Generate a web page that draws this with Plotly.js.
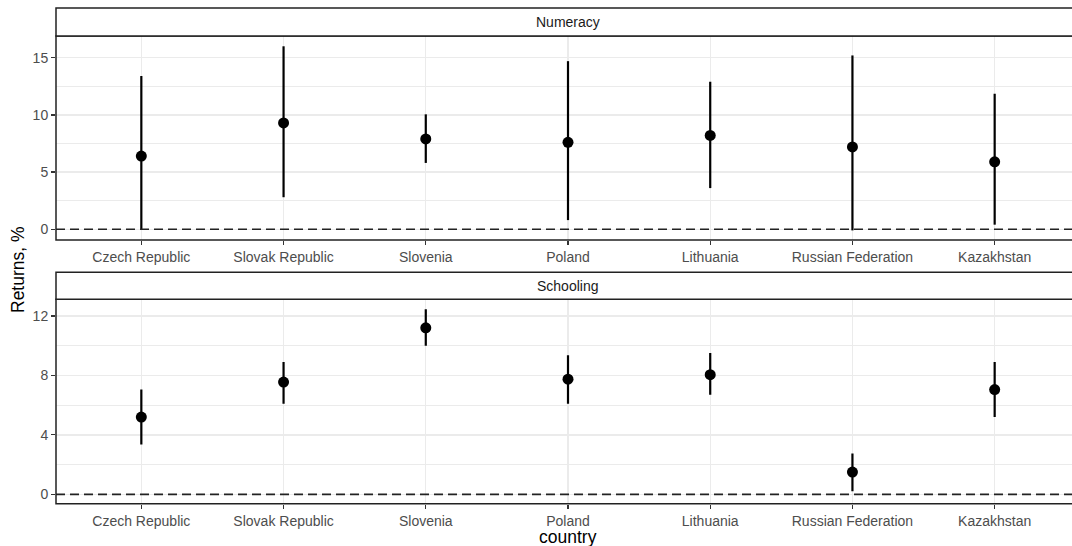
<!DOCTYPE html>
<html>
<head>
<meta charset="utf-8">
<script src="https://cdn.plot.ly/plotly-3.0.1.min.js"></script>
<style>
html, body { margin: 0; padding: 0; overflow: hidden; background: #fff; }
#chart { width: 1082px; height: 546px; }
</style>
</head>
<body>
<div id="chart"></div>
<script>
// ---- data ----
const countries = ["Czech Republic", "Slovak Republic", "Slovenia", "Poland", "Lithuania", "Russian Federation", "Kazakhstan"];

const numeracyEst  = [6.4, 9.3, 7.9, 7.6, 8.2, 7.2, 5.9];
const numeracyLow  = [-0.05, 2.8, 5.8, 0.8, 3.6, -0.1, 0.4];
const numeracyHigh = [13.4, 16.0, 10.05, 14.7, 12.9, 15.2, 11.85];

const schoolingEst  = [5.2, 7.55, 11.2, 7.75, 8.05, 1.5, 7.05];
const schoolingLow  = [3.35, 6.1, 10.0, 6.1, 6.7, 0.2, 5.2];
const schoolingHigh = [7.05, 8.9, 12.45, 9.35, 9.5, 2.75, 8.9];

const panelTitles = ["Numeracy", "Schooling"];
const yTitle = "Returns, %";
const xTitle = "country";

// ---- layout constants ----
const W = 1082, H = 546;
const FONT = "Liberation Sans, Arial, sans-serif";
const py = px => 1 - px / H;        // pixel row -> paper y

function errTrace(est, low, high, xa, ya) {
  return {
    type: "scatter", mode: "markers",
    x: countries, y: est, xaxis: xa, yaxis: ya,
    marker: { color: "#000", size: 11, symbol: "circle" },
    error_y: {
      type: "data", symmetric: false,
      array: high.map((h, i) => h - est[i]),
      arrayminus: low.map((l, i) => est[i] - l),
      color: "#000", thickness: 2.2, width: 0
    },
    hoverinfo: "x+y", showlegend: false
  };
}

const traces = [
  errTrace(numeracyEst, numeracyLow, numeracyHigh, "x", "y"),
  errTrace(schoolingEst, schoolingLow, schoolingHigh, "x2", "y2")
];

const xCommon = {
  type: "category", range: [-0.6, 6.6], categoryorder: "array", categoryarray: countries,
  showgrid: true, gridcolor: "#ebebeb", gridwidth: 1.3,
  showline: false, zeroline: false,
  ticks: "outside", ticklen: 4, tickwidth: 1.2, tickcolor: "#333",
  tickfont: { family: FONT, size: 14, color: "#4d4d4d" },
  fixedrange: true
};
const yCommon = {
  showgrid: true, gridcolor: "#ebebeb", gridwidth: 1.3,
  showline: false, zeroline: false,
  ticks: "outside", ticklen: 4, tickwidth: 1.2, tickcolor: "#333",
  tickfont: { family: FONT, size: 14, color: "#4d4d4d" },
  fixedrange: true
};

const top1 = 36, bot1 = 240, strip1 = 8;
const top2 = 299.3, bot2 = 503.7, strip2 = 272.3;

const layout = {
  width: W, height: H,
  margin: { l: 56, r: 2, t: 0, b: 0 },
  paper_bgcolor: "#fff", plot_bgcolor: "#fff",
  font: { family: FONT },
  showlegend: false,
  xaxis: Object.assign({}, xCommon, { anchor: "y", domain: [0, 1] }),
  yaxis: Object.assign({}, yCommon, {
    anchor: "x", domain: [py(bot1), py(top1)], range: [-0.94, 16.9],
    tickmode: "linear", tick0: 0, dtick: 5,
    minor: { dtick: 2.5, tick0: 0, showgrid: true, gridcolor: "#ebebeb", gridwidth: 1 }
  }),
  xaxis2: Object.assign({}, xCommon, { anchor: "y2", domain: [0, 1] }),
  yaxis2: Object.assign({}, yCommon, {
    anchor: "x2", domain: [py(bot2), py(top2)], range: [-0.63, 13.12],
    tickmode: "linear", tick0: 0, dtick: 4,
    minor: { dtick: 2, tick0: 0, showgrid: true, gridcolor: "#ebebeb", gridwidth: 1 }
  }),
  shapes: [
    // zero reference lines
    { type: "line", xref: "x domain", yref: "y", x0: 0, x1: 1, y0: 0, y1: 0,
      line: { color: "#222", width: 1.6, dash: "9px,5px" } },
    { type: "line", xref: "x2 domain", yref: "y2", x0: 0, x1: 1, y0: 0, y1: 0,
      line: { color: "#222", width: 1.6, dash: "9px,5px" } },
    // panel borders
    { type: "rect", xref: "paper", yref: "paper", x0: 0, x1: 1, y0: py(bot1), y1: py(top1),
      line: { color: "#222", width: 1.5 }, fillcolor: "rgba(0,0,0,0)" },
    { type: "rect", xref: "paper", yref: "paper", x0: 0, x1: 1, y0: py(bot2), y1: py(top2),
      line: { color: "#222", width: 1.5 }, fillcolor: "rgba(0,0,0,0)" },
    // strips
    { type: "rect", xref: "paper", yref: "paper", x0: 0, x1: 1, y0: py(top1), y1: py(strip1),
      line: { color: "#222", width: 1.5 }, fillcolor: "#fff" },
    { type: "rect", xref: "paper", yref: "paper", x0: 0, x1: 1, y0: py(top2), y1: py(strip2),
      line: { color: "#222", width: 1.5 }, fillcolor: "#fff" }
  ],
  annotations: [
    { text: panelTitles[0], xref: "paper", yref: "paper", x: 0.5, y: py((top1 + strip1) / 2),
      xanchor: "center", yanchor: "middle", showarrow: false,
      font: { family: FONT, size: 14, color: "#1a1a1a" } },
    { text: panelTitles[1], xref: "paper", yref: "paper", x: 0.5, y: py((top2 + strip2) / 2),
      xanchor: "center", yanchor: "middle", showarrow: false,
      font: { family: FONT, size: 14, color: "#1a1a1a" } },
    { text: yTitle, xref: "paper", yref: "paper", x: -38 / 1024, y: py(270),
      xanchor: "center", yanchor: "middle", textangle: -90, showarrow: false,
      font: { family: FONT, size: 17.5, color: "#000" } },
    { text: xTitle, xref: "paper", yref: "paper", x: 0.5, y: py(536.5),
      xanchor: "center", yanchor: "middle", showarrow: false,
      font: { family: FONT, size: 17.5, color: "#000" } }
  ]
};

Plotly.newPlot("chart", traces, layout, { displayModeBar: false, staticPlot: true });
</script>
</body>
</html>
